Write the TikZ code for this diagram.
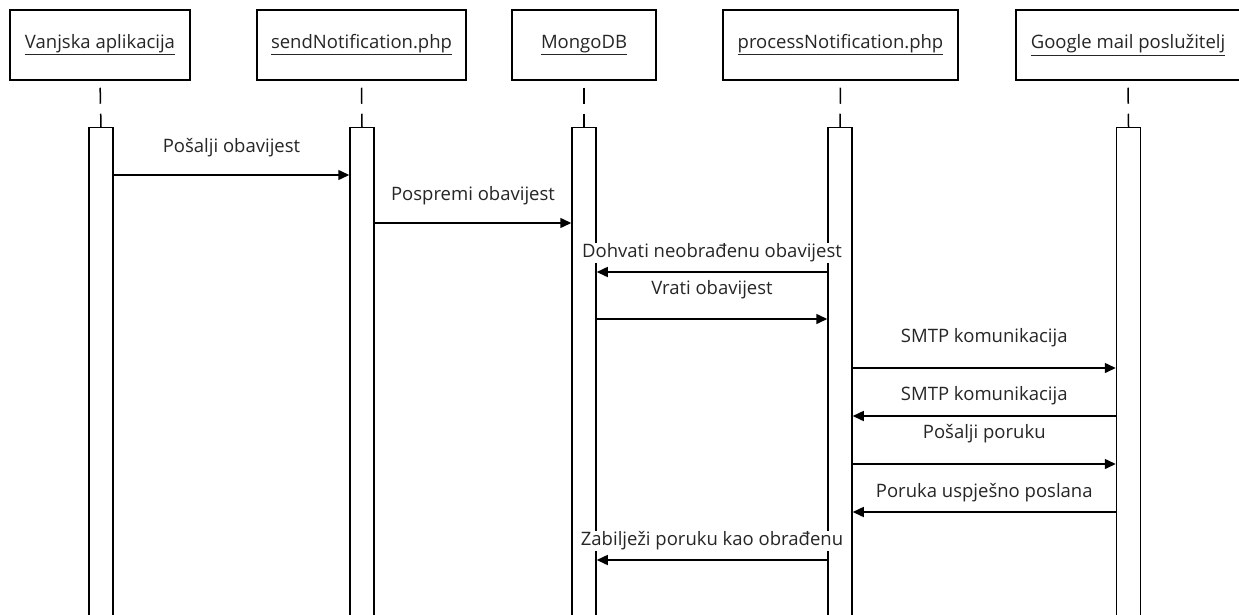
\documentclass[tikz,border=0pt]{standalone}
\usepackage{fontspec}
\setmainfont{Open Sans}
\usetikzlibrary{arrows.meta}
\tikzset{
  actor/.style={draw, line width=1.5pt, minimum height=70pt, inner sep=0pt, font=\fontsize{18.5}{20}\selectfont, text=black!85},
  bar/.style={draw, line width=1.5pt, minimum width=24pt, minimum height=560pt, inner sep=0pt, anchor=north},
  life/.style={line width=1.5pt, dash pattern=on 0pt off 7pt on 16pt off 10pt on 40pt},
  msg/.style={line width=1.5pt, -{Triangle[length=11pt,width=10pt]}},
  lbl/.style={fill=white, inner sep=1pt, font=\fontsize{18.5}{20}\selectfont, text=black!85}
}
\begin{document}
\begin{tikzpicture}[x=1pt,y=-1pt]
\clip (0,0) rectangle (1239,615);
\fill[white] (0,0) rectangle (1239,615);
% actors
\node[actor, minimum width=180pt] (a1) at (100,45) {\underline{Vanjska aplikacija}};
\node[actor, minimum width=209pt] (a2) at (361.5,45) {\underline{sendNotification.php}};
\node[actor, minimum width=144pt] (a3) at (584,45) {\underline{MongoDB}};
\node[actor, minimum width=235pt] (a4) at (840.5,45) {\underline{processNotification.php}};
\node[actor, minimum width=224pt] (a5) at (1128,45) {\underline{Google mail poslužitelj}};
% activation bars
\node[bar] (b1) at (101,127) {};
\node[bar] (b2) at (362,127) {};
\node[bar] (b3) at (584,127) {};
\node[bar] (b4) at (840,127) {};
\node[bar] (b5) at (1128.5,127) {};
% lifelines
\foreach \i in {1,...,5} \draw[life] (a\i.south) -- (b\i.north);
% messages
\draw[msg] (b1.east |- 0,175) -- (b2.west |- 0,175) node[lbl, midway, yshift=27pt] {Pošalji obavijest};
\draw[msg] (b2.east |- 0,223) -- (b3.west |- 0,223) node[lbl, midway, yshift=27pt] {Pospremi obavijest};
\draw[msg] (b4.west |- 0,272) -- (b3.east |- 0,272) node[lbl, midway, yshift=19pt] {Dohvati neobrađenu obavijest};
\draw[msg] (b3.east |- 0,319) -- (b4.west |- 0,319) node[lbl, midway, yshift=29pt] {Vrati obavijest};
\draw[msg] (b4.east |- 0,368) -- (b5.west |- 0,368) node[lbl, midway, yshift=30pt] {SMTP komunikacija};
\draw[msg] (b5.west |- 0,416) -- (b4.east |- 0,416) node[lbl, midway, yshift=20pt] {SMTP komunikacija};
\draw[msg] (b4.east |- 0,464) -- (b5.west |- 0,464) node[lbl, midway, yshift=30pt] {Pošalji poruku};
\draw[msg] (b5.west |- 0,512) -- (b4.east |- 0,512) node[lbl, midway, yshift=19pt] {Poruka uspješno poslana};
\draw[msg] (b4.west |- 0,560) -- (b3.east |- 0,560) node[lbl, midway, yshift=19pt] {Zabilježi poruku kao obrađenu};
\end{tikzpicture}
\end{document}
